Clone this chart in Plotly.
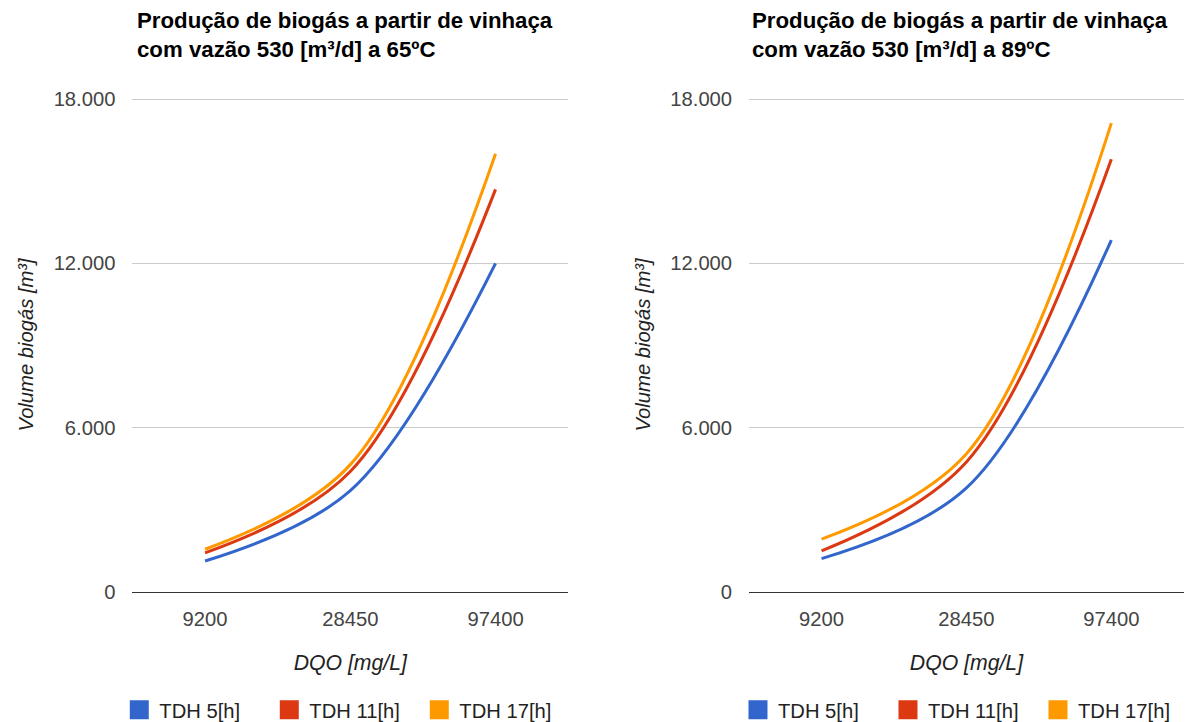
import plotly.graph_objects as go

# ---- data ----
categories = ["9200", "28450", "97400"]
series_names = ["TDH 5[h]", "TDH 11[h]", "TDH 17[h]"]
vol_65C_tdh5 = [1130, 3700, 12000]
vol_65C_tdh11 = [1430, 4400, 14700]
vol_65C_tdh17 = [1560, 4650, 16000]
vol_89C_tdh5 = [1220, 3800, 12850]
vol_89C_tdh11 = [1500, 4750, 15800]
vol_89C_tdh17 = [1930, 5050, 17120]
chart_titles = [
    "Produção de biogás a partir de vinhaça<br>com vazão 530 [m³/d] a 65ºC",
    "Produção de biogás a partir de vinhaça<br>com vazão 530 [m³/d] a 89ºC",
]
x_title = "DQO [mg/L]"
y_title = "Volume biogás [m³]"
y_ticks = [0, 6000, 12000, 18000]

colors = ["#3366CC", "#DC3912", "#FF9900"]
FONT = "Arial, Liberation Sans, sans-serif"
W, H = 1188, 722          # reference pixel frame
S = 1.011                 # render scale compensation
FW, FH = round(W * S), round(H * S)

def k(v):
    return v * S

def ki(v):
    return int(round(v * S))

fig = go.Figure()

panels = [
    ([vol_65C_tdh5, vol_65C_tdh11, vol_65C_tdh17], "x", "y", "legend"),
    ([vol_89C_tdh5, vol_89C_tdh11, vol_89C_tdh17], "x2", "y2", "legend2"),
]
for vals, xa, ya, lg in panels:
    for name, v, c in zip(series_names, vals, colors):
        fig.add_trace(go.Scatter(
            x=categories, y=v, xaxis=xa, yaxis=ya, mode="lines",
            line=dict(color=c, width=k(3), shape="spline", smoothing=1.0),
            showlegend=False, hoverinfo="skip"))
    for name, c in zip(series_names, colors):
        fig.add_trace(go.Scatter(
            x=[None], y=[None], xaxis=xa, yaxis=ya, mode="markers", name=name,
            marker=dict(symbol="square", size=16, color=c, line=dict(color=c, width=3)),
            legend=lg, showlegend=True))

# reference pixel geometry -> paper fractions
def px_x(p):
    return p / W

def px_y(p):
    return 1 - p / H

Y_TOP = 18040
y0_px, y18_px = 592, 99
ytop_px = y0_px - (y0_px - y18_px) * Y_TOP / 18000
y_dom = [px_y(y0_px), px_y(ytop_px)]
x_doms = [[px_x(131), px_x(562)], [px_x(741), px_x(1171)]]

common_x = dict(
    type="category", range=[-0.5, 2.5], showgrid=False, zeroline=False,
    showline=True, linecolor="#333333", linewidth=1, ticks="",
    tickfont=dict(family=FONT, size=k(20), color="#444444"),
    ticklabelstandoff=ki(9),
    title=dict(text=x_title, standoff=ki(25),
               font=dict(family=FONT, size=k(21), color="#222222", style="italic")),
    automargin=False, fixedrange=True,
)
common_y = dict(
    range=[0, Y_TOP], tickvals=y_ticks, tickformat=",d",
    showgrid=True, gridcolor="#CCCCCC", gridwidth=1, zeroline=False,
    showline=False, ticks="",
    tickfont=dict(family=FONT, size=k(20), color="#444444"),
    ticklabelstandoff=ki(16),
    title=dict(text=y_title, standoff=ki(14),
               font=dict(family=FONT, size=k(20), color="#222222", style="italic")),
    automargin=False, fixedrange=True,
)

fig.update_layout(
    width=FW, height=FH,
    margin=dict(l=0, r=0, t=0, b=0),
    paper_bgcolor="white", plot_bgcolor="white",
    separators=",.",
    font=dict(family=FONT),
    xaxis=dict(domain=x_doms[0], anchor="y", **common_x),
    yaxis=dict(domain=y_dom, anchor="x", **common_y),
    xaxis2=dict(domain=x_doms[1], anchor="y2", **common_x),
    yaxis2=dict(domain=y_dom, anchor="x2", **common_y),
    legend=dict(orientation="h", x=px_x(118), xanchor="left", y=px_y(710), yanchor="middle",
                font=dict(family=FONT, size=k(20), color="#222222"),
                entrywidth=ki(104), entrywidthmode="pixels", itemclick=False),
    legend2=dict(orientation="h", x=px_x(730), xanchor="left", y=px_y(710), yanchor="middle",
                 font=dict(family=FONT, size=k(20), color="#222222"),
                 entrywidth=ki(104), entrywidthmode="pixels", itemclick=False),
    showlegend=True,
)

for t, xpx in zip(chart_titles, [134, 742]):
    fig.add_annotation(
        text=t, xref="paper", yref="paper", x=px_x(xpx), y=1, xanchor="left", yanchor="top",
        yshift=-k(6), showarrow=False, align="left",
        font=dict(family=FONT, size=k(22), color="#000000", weight="bold"))

fig.write_html(
    "out.html",
    config={"displayModeBar": False, "staticPlot": True},
    post_script=(
        "var s=document.documentElement.style;s.margin='0';s.padding='0';s.overflow='hidden';"
        "var b=document.body.style;b.margin='0';b.padding='0';b.overflow='hidden';"
    ),
)
